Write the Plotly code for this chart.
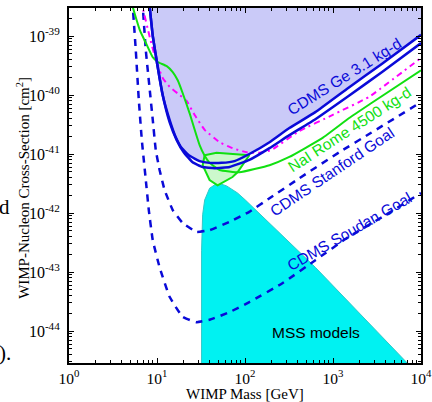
import numpy as np
import plotly.graph_objects as go

# ---- data (mass in GeV, cross-section as log10 of cm^2) ----
ge_upper_mass = [8.07, 8.28, 8.95, 10.2, 11.6, 13.9, 16.3, 19.1, 23.5, 30.5, 39.6, 54.2, 76.0, 112, 190, 319, 630, 1489, 3613, 10000]
ge_upper_lsig = [-38.39, -38.525, -39.0, -39.53, -40.0, -40.42, -40.71, -40.90, -41.03, -41.12, -41.15, -41.15, -41.12, -41.0, -40.80, -40.56, -40.29, -39.88, -39.47, -38.98]

ge_lower_mass = [8.07, 8.28, 8.95, 10.2, 11.6, 13.9, 16.7, 20.1, 25.4, 33.0, 45.1, 66.7, 112, 190, 319, 630, 1489, 3613, 10000]
ge_lower_lsig = [-38.39, -38.525, -39.0, -39.53, -40.0, -40.46, -40.76, -40.97, -41.14, -41.22, -41.24, -41.22, -41.10, -40.90, -40.68, -40.41, -40.02, -39.61, -39.12]

mag_mass = [6.72, 6.90, 8.28, 9.94, 11.6, 13.9, 18.1, 21.7, 26.8, 34.8, 51.4, 72.1, 104, 146, 200, 415, 982, 2575, 10000]
mag_lsig = [-38.39, -38.525, -39.02, -39.46, -39.71, -39.86, -40.0, -40.10, -40.34, -40.59, -40.80, -40.90, -40.97, -40.98, -40.93, -40.61, -40.34, -40.03, -39.37]

nai_mass = [5.17, 5.31, 6.38, 7.65, 8.95, 10.2, 12.9, 15.1, 17.2, 19.6, 23.5, 26.8, 30.5, 34.8, 39.6, 51.4, 86.7, 190, 319, 755, 1528, 2712, 10000]
nai_lsig = [-38.39, -38.51, -38.90, -39.15, -39.36, -39.44, -39.51, -39.61, -39.75, -39.97, -40.31, -40.59, -40.85, -41.03, -41.15, -41.27, -41.31, -41.19, -41.05, -40.73, -40.39, -40.14, -39.58]

stanford_mass = [6.72, 6.90, 7.46, 8.28, 8.95, 9.68, 10.7, 12.2, 15.1, 19.6, 28.2, 39.6, 66.7, 112, 190, 415, 1178, 2712, 10000]
stanford_lsig = [-38.39, -38.525, -39.24, -39.92, -40.42, -40.93, -41.27, -41.61, -41.95, -42.17, -42.32, -42.29, -42.15, -41.98, -41.75, -41.41, -40.97, -40.64, -40.12]

soudan_mass = [5.17, 5.31, 5.74, 6.21, 6.72, 7.46, 8.07, 8.95, 10.7, 13.9, 19.6, 28.2, 39.6, 66.7, 112, 266, 630, 1489, 3613, 10000]
soudan_lsig = [-38.39, -38.525, -39.24, -40.08, -40.76, -41.44, -41.95, -42.46, -42.92, -43.42, -43.76, -43.85, -43.81, -43.68, -43.51, -43.19, -42.80, -42.41, -42.07, -41.66]

mss_mass = [32.1, 32.1, 33.0, 34.8, 39.6, 48.8, 61.7, 82.2, 101, 630, 7600]
mss_lsig = [-44.6, -42.63, -42.03, -41.78, -41.58, -41.49, -41.54, -41.66, -41.78, -42.92, -44.6]

dama_mass = [34.8, 47.5, 112, 82.2, 72.1, 48.8, 39.6, 33.0, 34.8]
dama_lsig = [-41.02, -40.98, -41.02, -41.31, -41.39, -41.53, -41.44, -41.19, -41.02]

x_tickvals = [1, 10, 100, 1000, 10000]
x_ticktext = ["10<sup>0</sup>", "10<sup>1</sup>", "10<sup>2</sup>", "10<sup>3</sup>", "10<sup>4</sup>"]
y_tickvals = [1e-44, 1e-43, 1e-42, 1e-41, 1e-40, 1e-39]
y_ticktext = ["10<sup>-44</sup>", "10<sup>-43</sup>", "10<sup>-42</sup>", "10<sup>-41</sup>", "10<sup>-40</sup>", "10<sup>-39</sup>"]

curve_labels = ["CDMS Ge 3.1 kg-d", "NaI Rome 4500 kg-d", "CDMS Stanford Goal", "CDMS Soudan Goal", "MSS models"]

BLUE = "#0a0ad8"
GREEN = "#11e011"
MAG = "#ff00ff"
LAV = "rgb(202,202,248)"
CYAN = "#00f2f2"

def s(v):
    return list(10 ** np.array(v, dtype=float))

SM = 0.35
fig = go.Figure()

# excluded region above the CDMS curve
fig.add_trace(go.Scatter(x=ge_upper_mass + [10000, ge_upper_mass[0]],
                         y=s(ge_upper_lsig + [-38.39, -38.39]),
                         fill="toself", fillcolor=LAV, line=dict(width=0),
                         mode="lines", hoverinfo="skip"))
# MSS models region
fig.add_trace(go.Scatter(x=mss_mass, y=s(mss_lsig), fill="toself", fillcolor=CYAN,
                         line=dict(color="#30c8c8", width=1), mode="lines"))
# DAMA region
fig.add_trace(go.Scatter(x=dama_mass, y=s(dama_lsig), fill="toself", fillcolor="#ccf8cc",
                         line=dict(color=GREEN, width=2), mode="lines"))
# goals
fig.add_trace(go.Scatter(x=stanford_mass, y=s(stanford_lsig), mode="lines",
                         line=dict(color=BLUE, width=2.5, dash="7px,6px", shape="spline", smoothing=SM)))
fig.add_trace(go.Scatter(x=soudan_mass, y=s(soudan_lsig), mode="lines",
                         line=dict(color=BLUE, width=2.5, dash="7px,6px", shape="spline", smoothing=SM)))
# magenta dash-dot
fig.add_trace(go.Scatter(x=mag_mass, y=s(mag_lsig), mode="lines",
                         line=dict(color=MAG, width=2, dash="6px,4px,2px,4px", shape="spline", smoothing=SM)))
# NaI
fig.add_trace(go.Scatter(x=nai_mass, y=s(nai_lsig), mode="lines",
                         line=dict(color=GREEN, width=2, shape="spline", smoothing=SM)))
# CDMS Ge lines
fig.add_trace(go.Scatter(x=ge_upper_mass, y=s(ge_upper_lsig), mode="lines",
                         line=dict(color=BLUE, width=2.5, shape="spline", smoothing=SM)))
fig.add_trace(go.Scatter(x=ge_lower_mass, y=s(ge_lower_lsig), mode="lines",
                         line=dict(color=BLUE, width=2.5, shape="spline", smoothing=SM)))

SANS = "Liberation Sans, Arial, sans-serif"
SERIF = "Liberation Serif, Times New Roman, serif"

label_pos = [(3.127, -39.69, -32, BLUE), (3.184, -40.58, -33, GREEN),
             (2.992, -41.29, -34, BLUE), (3.184, -42.31, -30, BLUE), (2.810, -44.03, 0, "black")]
for txt, (lx, ly, ang, col) in zip(curve_labels, label_pos):
    fig.add_annotation(x=lx, y=ly, xref="x", yref="y", text=txt, showarrow=False,
                       textangle=ang, font=dict(family=SANS, size=15.5, color=col))

# axis titles
fig.add_annotation(x=0.5, y=-0.0887, xref="paper", yref="paper", text="WIMP Mass [GeV]",
                   showarrow=False, xanchor="center", yanchor="middle",
                   font=dict(family=SERIF, size=15, color="black"))
fig.add_annotation(x=-0.131, y=0.493, xref="paper", yref="paper",
                   text="WIMP-Nucleon Cross-Section [cm<sup>2</sup>]", textangle=-90,
                   showarrow=False, xanchor="center", yanchor="middle",
                   font=dict(family=SERIF, size=15, color="black"))

# fragments of surrounding document text at the left edge
fig.add_annotation(x=-0.205, y=0.439, xref="paper", yref="paper", text="d", showarrow=False,
                   xanchor="left", yanchor="middle", font=dict(family=SERIF, size=21, color="black"))
fig.add_annotation(x=-0.205, y=0.028, xref="paper", yref="paper", text=").", showarrow=False,
                   xanchor="left", yanchor="middle", font=dict(family=SERIF, size=21, color="black"))

axis_common = dict(type="log", showgrid=False, zeroline=False, showline=True, linecolor="black",
                   linewidth=2, mirror="ticks", ticks="inside", ticklen=5, tickwidth=1, tickcolor="black",
                   automargin=False, ticklabeloverflow="allow",
                   minor=dict(ticks="inside", ticklen=3, tickwidth=1, tickcolor="black", dtick="D1"))

fig.update_xaxes(**axis_common, range=[0, 4], tickvals=x_tickvals, ticktext=x_ticktext,
                 tickfont=dict(family=SERIF, size=15.5, color="black"), ticklabelstandoff=0)
fig.update_yaxes(**axis_common, range=[-44.542, -38.525], tickvals=y_tickvals, ticktext=y_ticktext,
                 tickfont=dict(family=SERIF, size=16, color="black"), ticklabelstandoff=4)

fig.update_layout(width=432, height=402, margin=dict(l=69, r=11, t=8, b=39, autoexpand=False),
                  paper_bgcolor="white", plot_bgcolor="white", showlegend=False)

fig.write_html("out.html", config={"displayModeBar": False},
               post_script="document.body.style.margin='0';document.body.style.overflow='hidden';")
